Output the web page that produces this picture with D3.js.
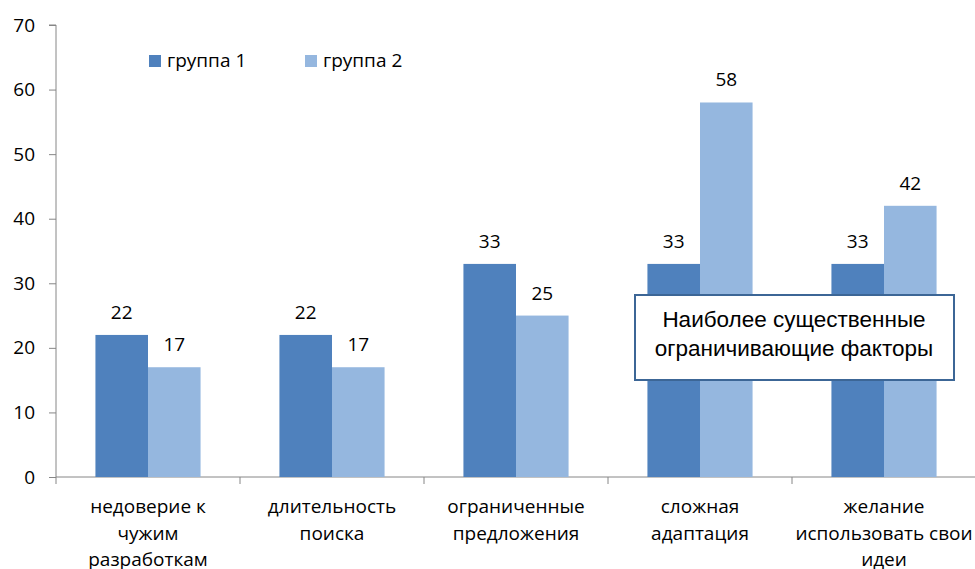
<!DOCTYPE html>
<html><head><meta charset="utf-8">
<script src="https://cdn.jsdelivr.net/npm/d3@7"></script>
<style>body{margin:0;background:#fff}svg{display:block}</style>
</head><body><svg id="c" width="975" height="569"></svg>
<script>
const categories = [["недоверие к","чужим","разработкам"],["длительность","поиска"],["ограниченные","предложения"],["сложная","адаптация"],["желание","использовать свои","идеи"]];
const seriesNames = ["группа 1","группа 2"];
const group1 = [22,22,33,33,33];
const group2 = [17,17,25,58,42];
const yTicks = [0,10,20,30,40,50,60,70];
const colors = ["#4F81BD","#95B7DF"];
const noteLines = ["Наиболее существенные","ограничивающие факторы"];

(function(){
const svg = d3.select("#c");
const font = "'Open Sans', Lato, sans-serif";
const fs = 19;
const mLeft = 56, mRight = 976, mTop = 25, mBottom = 477;
const y = d3.scaleLinear().domain([0,70]).range([mBottom, mTop]);
const x = d3.scaleBand().domain(d3.range(categories.length)).range([mLeft, mRight]).paddingInner(0).paddingOuter(0);
const inner = d3.scaleBand().domain([0,1]).range([0, x.bandwidth()]).paddingOuter(0.75).paddingInner(0);

// Y axis
const ya = svg.append("g").attr("transform",`translate(${mLeft},0)`)
  .call(d3.axisLeft(y).tickValues(yTicks).tickSize(7).tickPadding(14));
ya.select(".domain").attr("stroke","#868686").attr("d",`M-7,${mTop}H0V${mBottom}`);
ya.selectAll(".tick line").attr("stroke","#868686");
ya.selectAll(".tick text").attr("font-family",font).attr("font-size",fs).attr("fill","#000");

// X axis
const xa = svg.append("g").attr("transform",`translate(0,${mBottom})`);
xa.append("line").attr("x1",mLeft).attr("x2",mRight).attr("stroke","#868686");
xa.selectAll(".t").data(d3.range(categories.length)).join("line")
  .attr("x1",d=>x(d)).attr("x2",d=>x(d)).attr("y1",0).attr("y2",7).attr("stroke","#868686");

const data = [group1, group2];
data.forEach((vals, s) => {
  svg.append("g").selectAll("rect").data(vals).join("rect")
    .attr("x",(d,i)=>x(i)+inner(s)).attr("width",inner.bandwidth())
    .attr("y",d=>y(d)).attr("height",d=>mBottom-y(d)).attr("fill",colors[s]);
  svg.append("g").selectAll("text").data(vals).join("text")
    .attr("x",(d,i)=>x(i)+inner(s)+inner.bandwidth()/2).attr("y",d=>y(d)-16)
    .attr("text-anchor","middle").attr("font-family",font).attr("font-size",fs).attr("fill","#000")
    .text(d=>d);
});

// category labels
categories.forEach((lines,i)=>{
  const t = svg.append("text").attr("text-anchor","middle").attr("font-family",font).attr("font-size",fs).attr("fill","#000");
  lines.forEach((l,j)=>t.append("tspan").attr("x",x(i)+x.bandwidth()/2).attr("y",513+j*26.5).text(l));
});

// legend
const lg = svg.append("g");
seriesNames.forEach((n,i)=>{
  const lx = 149 + i*156;
  lg.append("rect").attr("x",lx).attr("y",55).attr("width",12).attr("height",12).attr("fill",colors[i]);
  lg.append("text").attr("x",lx+18).attr("y",67).attr("font-family",font).attr("font-size",fs).attr("fill","#000").text(n);
});

// note box
svg.append("rect").attr("x",635).attr("y",295).attr("width",319).attr("height",85)
  .attr("fill","#fff").attr("stroke","#3C6696").attr("stroke-width",2);
const nt = svg.append("text").attr("text-anchor","middle").attr("font-family","'Liberation Sans', Arial, sans-serif").attr("font-size",22.5).attr("fill","#000");
noteLines.forEach((l,j)=>nt.append("tspan").attr("x",794).attr("y",327+j*29).text(l));
})();
</script></body></html>
